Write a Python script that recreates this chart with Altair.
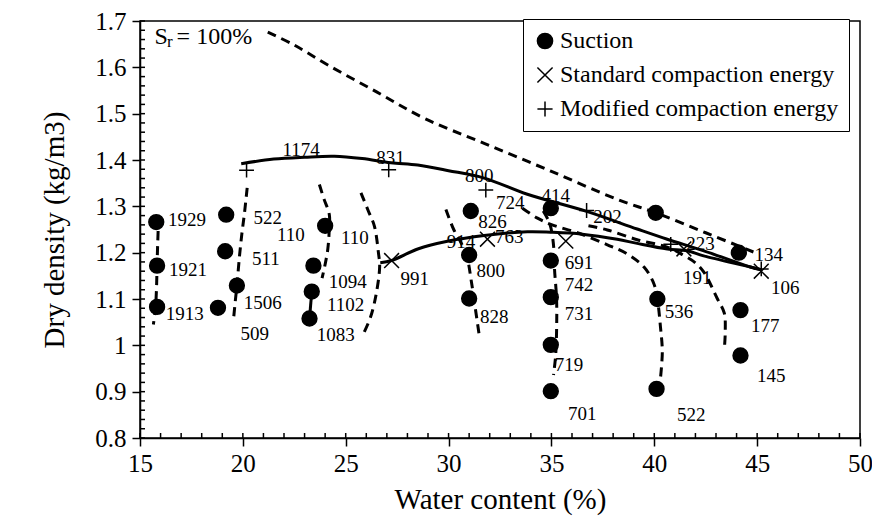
import altair as alt
import pandas as pd

# ---------------- data ----------------
# Suction points (filled circles)
suction_x = [15.79, 15.83, 15.83, 19.19, 19.14, 19.71, 18.79, 24.0, 23.43, 23.35, 23.24,
             31.08, 31.0, 31.0, 34.97, 34.97, 34.97, 34.97, 34.97, 40.07, 40.15, 40.11,
             44.11, 44.19, 44.19]
suction_y = [1.266, 1.172, 1.083, 1.282, 1.203, 1.129, 1.081, 1.258, 1.172, 1.116, 1.058,
             1.29, 1.195, 1.101, 1.296, 1.183, 1.104, 1.001, 0.901, 1.286, 1.10, 0.906,
             1.20, 1.076, 0.978]
# Standard compaction energy (x markers)
std_x = [27.23, 31.89, 35.7, 41.44, 45.2]
std_y = [1.183, 1.229, 1.225, 1.208, 1.16]
# Modified compaction energy (+ markers)
mod_x = [20.18, 27.09, 31.81, 36.71, 40.8, 45.2]
mod_y = [1.378, 1.379, 1.335, 1.291, 1.218, 1.165]

# Point annotations
label_text = ["1929", "1921", "1913", "522", "511", "1506", "509", "110", "110", "1094",
              "1102", "1083", "991", "1174", "831", "800", "724", "826", "914", "763",
              "800", "828", "414", "202", "691", "742", "731", "719", "701", "223",
              "191", "134", "106", "536", "177", "145", "522"]
label_x = [17.28, 17.33, 17.18, 21.21, 21.12, 20.97, 20.58, 22.33, 25.44, 25.1,
           25.0, 24.51, 28.35, 22.83, 27.18, 31.49, 33.0, 32.14, 30.6, 32.95,
           32.05, 32.22, 35.21, 37.72, 36.34, 36.34, 36.34, 35.86, 36.5, 42.25,
           42.09, 45.57, 46.37, 41.2, 45.4, 45.69, 41.8]
label_y = [1.271, 1.162, 1.068, 1.274, 1.186, 1.091, 1.025, 1.239, 1.231, 1.136,
           1.087, 1.023, 1.143, 1.422, 1.404, 1.365, 1.308, 1.266, 1.222, 1.233,
           1.161, 1.061, 1.322, 1.276, 1.178, 1.131, 1.068, 0.958, 0.851, 1.218,
           1.145, 1.195, 1.124, 1.072, 1.042, 0.933, 0.849]

# Dashed curves
sr_x = [21.21, 22.5, 24.13, 26.5, 28.82, 31.73, 34.97, 38.2, 40.07, 42.5, 44.9]
sr_y = [1.676, 1.648, 1.605, 1.547, 1.49, 1.436, 1.376, 1.315, 1.286, 1.243, 1.2]
c1_x = [15.91, 15.86, 15.83, 15.8, 15.75, 15.65]
c1_y = [1.279, 1.22, 1.172, 1.12, 1.08, 1.045]
c2_x = [20.21, 20.08, 19.95, 19.84, 19.71, 19.62, 19.55]
c2_y = [1.34, 1.286, 1.24, 1.194, 1.129, 1.09, 1.058]
c3_x = [23.72, 23.95, 24.2, 24.2, 24.13, 24.0, 23.85]
c3_y = [1.347, 1.315, 1.283, 1.25, 1.208, 1.175, 1.145]
c4_x = [25.74, 26.1, 26.39, 26.59, 26.65, 26.47, 26.2, 25.83]
c4_y = [1.329, 1.29, 1.258, 1.2, 1.17, 1.108, 1.06, 1.022]
c5_x = [29.87, 30.25, 30.6, 30.9, 31.1, 31.3, 31.49]
c5_y = [1.293, 1.25, 1.222, 1.19, 1.14, 1.08, 1.022]
c6_x = [34.6, 34.9, 35.05, 35.13, 35.15, 35.25, 35.25, 35.2, 35.1]
c6_y = [1.29, 1.265, 1.235, 1.2, 1.165, 1.1, 1.03, 0.975, 0.936]
c7_x = [33.59, 34.3, 34.97, 36.26, 37.72, 38.69, 39.5, 39.98, 40.15, 40.3, 40.39, 40.3]
c7_y = [1.296, 1.275, 1.261, 1.243, 1.217, 1.197, 1.169, 1.133, 1.1, 1.04, 0.986, 0.929]
c8_x = [36.8, 37.72, 39.17, 40.63, 41.4, 42.0, 42.41, 43.06, 43.4, 43.45, 43.41]
c8_y = [1.258, 1.249, 1.228, 1.212, 1.195, 1.178, 1.158, 1.101, 1.07, 1.03, 0.995]

# Solid curves
modc_x = [19.92, 21.5, 23.0, 24.45, 25.8, 27.2, 28.5, 30.0, 31.73, 33.83, 36.71, 39.17,
          40.63, 42.41, 44.67, 45.2]
modc_y = [1.392, 1.402, 1.406, 1.408, 1.403, 1.394, 1.389, 1.377, 1.361, 1.326, 1.289,
          1.251, 1.229, 1.204, 1.169, 1.163]
stdc_x = [26.68, 27.23, 28.5, 30.0, 31.73, 33.83, 34.97, 36.5, 38.2, 39.17, 40.63, 41.6,
          42.4, 44.67, 45.2]
stdc_y = [1.178, 1.183, 1.208, 1.225, 1.237, 1.245, 1.244, 1.24, 1.229, 1.22, 1.208,
          1.204, 1.193, 1.169, 1.163]
seg_x = [23.35, 23.24]
seg_y = [1.116, 1.058]

x_ticks = [15, 20, 25, 30, 35, 40, 45, 50]
y_ticks = [0.8, 0.9, 1.0, 1.1, 1.2, 1.3, 1.4, 1.5, 1.6, 1.7]
x_minor = list(range(15, 51))
y_minor = [round(0.8 + 0.02 * i, 2) for i in range(46)]

series_names = ["Suction", "Standard compaction energy", "Modified compaction energy"]

# ---------------- build tables ----------------
def curve_df(name, xs, ys):
    return pd.DataFrame({"curve": name, "i": range(len(xs)), "x": xs, "y": ys})

dashed_df = pd.concat([curve_df(n, xs, ys) for n, xs, ys in [
    ("sr", sr_x, sr_y), ("c1", c1_x, c1_y), ("c2", c2_x, c2_y), ("c3", c3_x, c3_y),
    ("c4", c4_x, c4_y), ("c5", c5_x, c5_y), ("c6", c6_x, c6_y), ("c7", c7_x, c7_y),
    ("c8", c8_x, c8_y)]])
solid_df = pd.concat([curve_df(n, xs, ys) for n, xs, ys in [
    ("mod", modc_x, modc_y), ("std", stdc_x, stdc_y), ("seg", seg_x, seg_y)]])

points_df = pd.concat([
    pd.DataFrame({"x": suction_x, "y": suction_y, "series": series_names[0]}),
    pd.DataFrame({"x": std_x, "y": std_y, "series": series_names[1]}),
    pd.DataFrame({"x": mod_x, "y": mod_y, "series": series_names[2]}),
])
labels_df = pd.DataFrame({"x": label_x, "y": label_y, "t": label_text})

FONT = "Liberation Serif"
W, H = 720, 417
xs = alt.Scale(domain=[15, 50], nice=False, zero=False)
ys = alt.Scale(domain=[0.8, 1.7], nice=False, zero=False)

X = alt.X("x:Q", scale=xs, axis=alt.Axis(values=x_ticks, title="Water content (%)",
                                         titlePadding=9, labelPadding=5,
                                         labelFlush=False))
Y = alt.Y("y:Q", scale=ys, axis=alt.Axis(values=y_ticks, format="~g",
                                         title="Dry density (kg/m3)",
                                         titlePadding=25, labelPadding=6,
                                         labelFlush=False))

dashed = alt.Chart(dashed_df).mark_line(
    color="black", strokeWidth=3, strokeDash=[9, 6], interpolate="catmull-rom"
).encode(x=X, y=Y, detail="curve:N", order="i:Q")

solid = alt.Chart(solid_df).mark_line(
    color="black", strokeWidth=3, interpolate="catmull-rom"
).encode(x=X, y=Y, detail="curve:N", order="i:Q")

legend_def = alt.Legend(
    title=None, orient="none", legendX=383, legendY=-2,
    labelFont=FONT, labelFontSize=24, labelColor="black", labelLimit=400,
    labelOffset=3, symbolSize=230, symbolStrokeColor="black", symbolStrokeWidth=1.5,
    strokeColor="black", fillColor="white", padding=10, rowPadding=10,
)
shape_scale = alt.Scale(
    domain=series_names,
    range=["circle", "M-1,-1L1,1M-1,1L1,-1", "M-1,0L1,0M0,-1L0,1"],
)
fill_scale = alt.Scale(domain=series_names, range=["black", "transparent", "transparent"])
stroke_scale = alt.Scale(domain=series_names, range=["black", "black", "black"])

points = alt.Chart(points_df).mark_point(
    filled=False, strokeWidth=1.5, opacity=1, size=220
).encode(
    x=X, y=Y,
    shape=alt.Shape("series:N", scale=shape_scale, legend=legend_def),
    fill=alt.Fill("series:N", scale=fill_scale, legend=legend_def),
    stroke=alt.Stroke("series:N", scale=stroke_scale, legend=legend_def),
)

labels = alt.Chart(labels_df).mark_text(
    font=FONT, fontSize=19, color="black", align="center", baseline="middle"
).encode(x=X, y=Y, text="t:N")

sr_parts = pd.DataFrame({
    "x": [15.7, 16.31, 16.78], "y": [1.666, 1.655, 1.666],
    "t": ["S", "r", "= 100%"], "fs": [24, 17, 24],
})
sr_label = alt.Chart(sr_parts).mark_text(
    font=FONT, color="black", align="left", baseline="middle"
).encode(x=X, y=Y, text="t:N", size=alt.Size("fs:Q", scale=None, legend=None))

xminor = alt.Chart(pd.DataFrame({"x": x_minor})).mark_rule(
    color="black", strokeWidth=1.5
).encode(x=X, y=alt.value(H - 5), y2=alt.value(H))
yminor = alt.Chart(pd.DataFrame({"y": y_minor})).mark_rule(
    color="black", strokeWidth=1.5
).encode(y=Y, x=alt.value(0), x2=alt.value(5))

chart = alt.layer(dashed, solid, points, labels, sr_label, xminor, yminor).properties(
    width=W, height=H,
    autosize=alt.AutoSizeParams(type="none"),
    padding={"left": 132, "top": 13, "right": 12, "bottom": 79},
).configure_view(
    stroke="black", strokeWidth=1.5
).configure_axis(
    grid=False, domainColor="black", domainWidth=1.5, tickColor="black",
    tickWidth=1.5, tickSize=8, labelFont=FONT, labelFontSize=25,
    labelColor="black", titleFont=FONT, titleFontSize=29,
    titleFontWeight="normal", titleColor="black",
)

chart.save("out.html", embed_options={"renderer": "svg", "actions": False})
